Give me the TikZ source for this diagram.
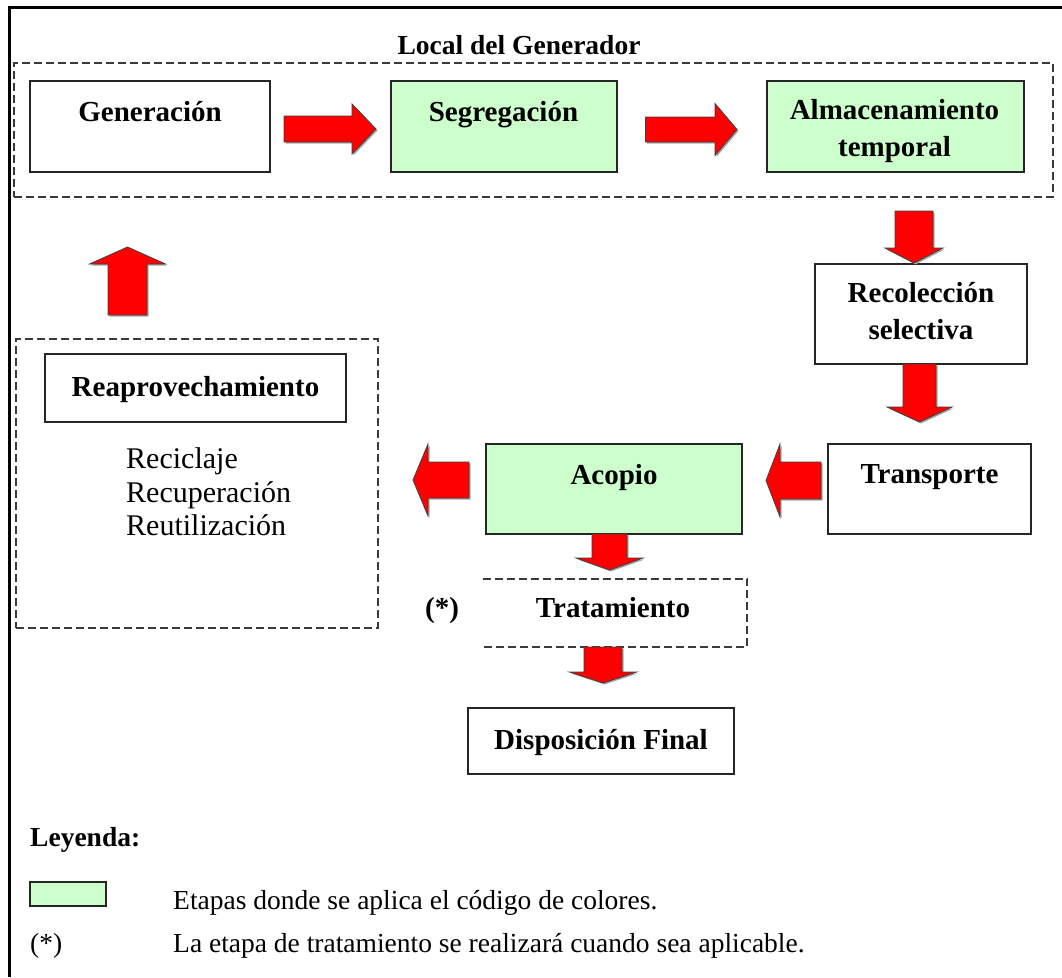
\documentclass[tikz,border=0pt]{standalone}
\usepackage{fontspec}
\setmainfont{Liberation Serif}
\definecolor{stagegreen}{HTML}{CCFFCC}
\definecolor{arrowred}{HTML}{FF0000}
\definecolor{edgegray}{HTML}{262626}
\definecolor{dashgray}{HTML}{3A3A3A}

% horizontal block arrow: tail x, head-base x, tip x, centre y, shaft half, head half
\newcommand\harrow[6]{%
  \fill[black!35] ([shift={(1.5,1.5)}]#1,#4-#5) -- ([shift={(1.5,1.5)}]#2,#4-#5) -- ([shift={(1.5,1.5)}]#2,#4-#6) -- ([shift={(1.5,1.5)}]#3,#4) -- ([shift={(1.5,1.5)}]#2,#4+#6) -- ([shift={(1.5,1.5)}]#2,#4+#5) -- ([shift={(1.5,1.5)}]#1,#4+#5) -- cycle;
  \filldraw[blockarrow] (#1,#4-#5) -- (#2,#4-#5) -- (#2,#4-#6) -- (#3,#4) -- (#2,#4+#6) -- (#2,#4+#5) -- (#1,#4+#5) -- cycle;}
% vertical block arrow: tail y, head-base y, tip y, centre x, shaft half, head half
\newcommand\varrow[6]{%
  \fill[black!35] ([shift={(1.5,1.5)}]#4-#5,#1) -- ([shift={(1.5,1.5)}]#4-#5,#2) -- ([shift={(1.5,1.5)}]#4-#6,#2) -- ([shift={(1.5,1.5)}]#4,#3) -- ([shift={(1.5,1.5)}]#4+#6,#2) -- ([shift={(1.5,1.5)}]#4+#5,#2) -- ([shift={(1.5,1.5)}]#4+#5,#1) -- cycle;
  \filldraw[blockarrow] (#4-#5,#1) -- (#4-#5,#2) -- (#4-#6,#2) -- (#4,#3) -- (#4+#6,#2) -- (#4+#5,#2) -- (#4+#5,#1) -- cycle;}

\begin{document}
\begin{tikzpicture}[x=1pt,y=-1pt,
  box/.style={draw=edgegray, line width=1.6pt, inner sep=0pt},
  stage/.style={box, fill=stagegreen},
  zone/.style={draw=dashgray, line width=1.8pt, dash pattern=on 8pt off 4pt},
  blockarrow/.style={fill=arrowred, draw=black!75, line width=0.8pt, line join=miter},
  lbl/.style={font=\fontsize{29pt}{35pt}\selectfont\bfseries, inner sep=0pt, text height=19pt, text depth=0pt},
  zonelbl/.style={font=\fontsize{27.5pt}{32pt}\selectfont\bfseries, inner sep=0pt, text height=18pt, text depth=0pt},
  item/.style={font=\fontsize{30pt}{34pt}\selectfont, inner sep=0pt, text height=20pt, text depth=0pt, anchor=west},
  keytxt/.style={font=\fontsize{27.5pt}{33pt}\selectfont, inner sep=0pt, text height=18pt, text depth=0pt, anchor=west},
  keyhead/.style={font=\fontsize{27.5pt}{33pt}\selectfont\bfseries, inner sep=0pt, text height=18pt, text depth=0pt, anchor=west}
]
\useasboundingbox (0,0) rectangle (1062,977);
\fill[white] (0,0) rectangle (1062,977);

% page frame (only top and left edges fall inside)
\draw[line width=3pt] (9,977) -- (9,7) -- (1062,7);

% generator premises
\node[zonelbl] (localtxt) at (519,45) {Local del Generador};
\node[zone, inner sep=0pt, minimum width=1039pt, minimum height=134pt] (local) at (533.5,130) {};

\node[box, minimum width=240pt, minimum height=91pt] (gen) at (150,126.5) {};
\node[lbl] (gentxt) at (150,112) {Generación};

\node[stage, minimum width=226pt, minimum height=91pt] (seg) at (504,126.5) {};
\node[lbl] (segtxt) at (503.5,112) {Segregación};

\node[stage, minimum width=257pt, minimum height=91pt] (alm) at (895.5,126.5) {};
\node[lbl] (almtxtA) at (894.5,110) {Almacenamiento};
\node[lbl] (almtxtB) at (894.5,147) {temporal};

% collection chain
\node[box, minimum width=212pt, minimum height=100pt] (rec) at (921,314) {};
\node[lbl] (rectxtA) at (921,293) {Recolección};
\node[lbl] (rectxtB) at (921,330) {selectiva};

\node[box, minimum width=203pt, minimum height=90pt] (trans) at (929.5,489) {};
\node[lbl] (transtxt) at (929.5,474) {Transporte};

\node[stage, minimum width=256pt, minimum height=90pt] (acopio) at (614,489) {};
\node[lbl] (acopiotxt) at (614,475) {Acopio};

% optional treatment (open on its left side)
\node[inner sep=0pt, minimum width=264pt, minimum height=68pt] (trat) at (615,613) {};
\draw[zone] (trat.north west) -- (trat.north east) -- (trat.south east) -- (trat.south west);
\node[lbl] (trattxt) at (613,608) {Tratamiento};
\node[lbl] (ast) at (442,608) {(*)};

\node[box, minimum width=266pt, minimum height=66pt] (disp) at (601,741) {};
\node[lbl] (disptxt) at (601,740) {Disposición Final};

% reuse group
\node[zone, inner sep=0pt, minimum width=362pt, minimum height=289pt] (reuse) at (197,483.5) {};
\node[box, minimum width=301pt, minimum height=68pt] (reap) at (195.5,388) {};
\node[lbl] (reaptxt) at (195.5,387) {Reaprovechamiento};
\node[item] (r1) at (126,458) {Reciclaje};
\node[item] (r2) at (126,492) {Recuperación};
\node[item] (r3) at (126,525) {Reutilización};

% flow arrows
\harrow{284}{352}{376}{129}{13}{25}
\harrow{645.5}{715}{737}{129.5}{12.5}{26}
\varrow{211}{248}{263}{914}{19}{29}
\varrow{364}{407}{422}{919.5}{16.5}{32.5}
\harrow{821}{780}{766}{480.5}{18.5}{36.5}
\harrow{469}{428}{413}{480}{18}{36}
\varrow{534}{558}{570}{609.5}{17.5}{33.5}
\varrow{647}{672}{683}{603}{19}{33.5}
\varrow{315}{264}{247}{127.5}{19.5}{38}

% legend
\node[keyhead] (keyttl) at (30,837) {Leyenda:};
\node[stage, minimum width=76pt, minimum height=24pt] (keybox) at (68,894) {};
\node[keytxt] (keyone) at (173,900) {Etapas donde se aplica el código de colores.};
\node[keytxt] (keyast) at (30,943) {(*)};
\node[keytxt] (keytwo) at (173,943) {La etapa de tratamiento se realizará cuando sea aplicable.};
\end{tikzpicture}
\end{document}
